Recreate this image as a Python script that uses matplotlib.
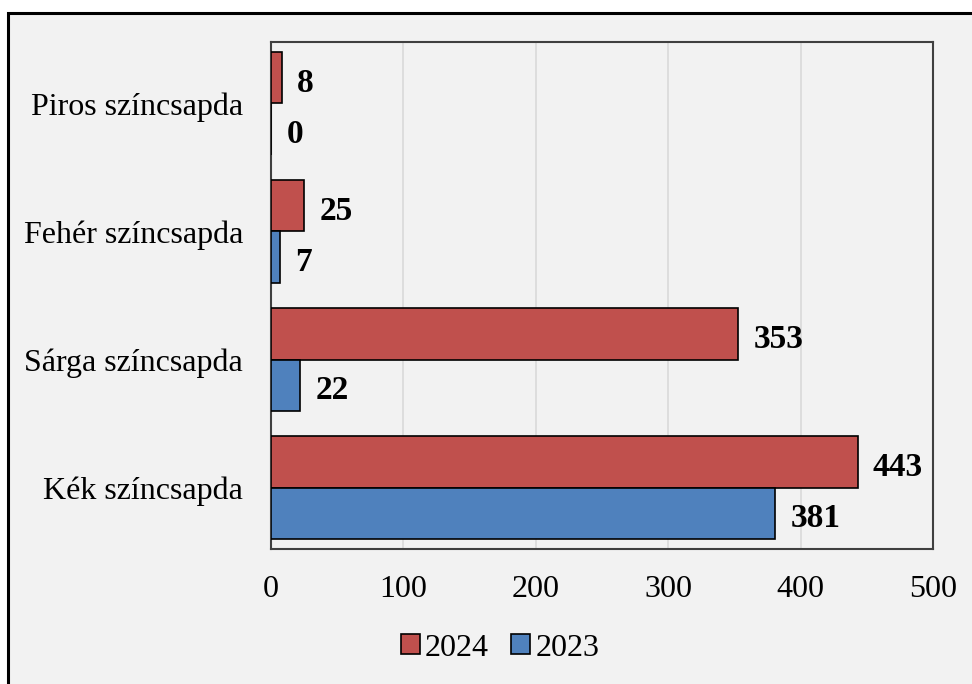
import matplotlib
matplotlib.use("Agg")
import matplotlib.pyplot as plt
from matplotlib.patches import Rectangle
import numpy as np

plt.rcParams['font.family'] = ['Liberation Serif', 'DejaVu Serif']

categories = ["Kék színcsapda", "Sárga színcsapda", "Fehér színcsapda", "Piros színcsapda"]
values_2024 = [443, 353, 25, 8]
values_2023 = [381, 22, 7, 0]
series_names = ["2024", "2023"]

red = '#c0504d'
blue = '#4f81bd'
bg = '#f2f2f2'

fig = plt.figure(figsize=(9.72, 6.84), dpi=100)
fig.patch.set_facecolor('white')
# background panel with black border (top & left visible)
fig.patches.append(Rectangle((8/972, -0.1), 1.2, 1 - 13/684 + 0.1,
                             transform=fig.transFigure, facecolor=bg,
                             edgecolor='black', linewidth=2.2, zorder=-5))

ax = fig.add_axes([271/972, 1 - 549/684, (933 - 271)/972, (549 - 42)/684])
ax.set_facecolor(bg)

y = np.arange(len(categories))
h = 0.4
b1 = ax.barh(y + h/2, values_2024, height=h, color=red, edgecolor='black',
             linewidth=1.2, label=series_names[0], zorder=3)
b2 = ax.barh(y - h/2, values_2023, height=h, color=blue, edgecolor='black',
             linewidth=1.2, label=series_names[1], zorder=3)

for bars, vals in ((b1, values_2024), (b2, values_2023)):
    for bar, v in zip(bars, vals):
        ax.annotate(str(v), (v, bar.get_y() + bar.get_height()/2),
                    xytext=(11, -4), textcoords='offset points',
                    va='center', ha='left', fontsize=24, fontweight='bold')

ax.set_xlim(0, 500)
ax.set_ylim(-0.48, 3.48)
ax.set_xticks(np.arange(0, 501, 100))
ax.set_yticks(y)
ax.set_yticklabels(categories)
ax.tick_params(axis='both', length=0, labelsize=23)
ax.tick_params(axis='y', pad=20)
ax.tick_params(axis='x', pad=19)
ax.grid(axis='x', color='#d9d9d9', linewidth=1.2, zorder=0)
ax.set_axisbelow(True)
for s in ax.spines.values():
    s.set_color('#404040')
    s.set_linewidth(1.5)

leg = fig.legend(handles=[b1, b2], loc='center', bbox_to_anchor=(500/972, 1 - 648/684),
                 ncol=2, frameon=False, fontsize=23, handlelength=0.6,
                 handleheight=0.6, handletextpad=0.15, columnspacing=0.7)

fig.savefig("out.png", dpi=100, facecolor=fig.get_facecolor())
